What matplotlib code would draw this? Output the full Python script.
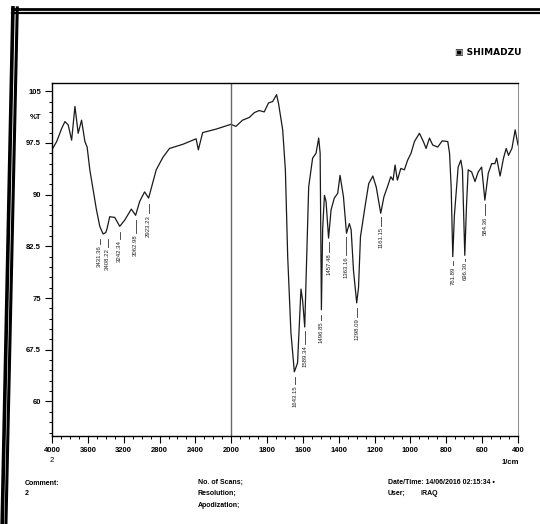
import numpy as np
import matplotlib
matplotlib.use("Agg")
import matplotlib.pyplot as plt
from matplotlib.lines import Line2D
from matplotlib.ticker import FixedLocator, MultipleLocator

plt.rcParams['font.family'] = ['Liberation Sans Narrow', 'Liberation Sans', 'DejaVu Sans']

# spectrum (wavenumber 1/cm, %T)
wn = [3992, 3948, 3892, 3856, 3819, 3781, 3744, 3708, 3670, 3633, 3608, 3578,
      3541, 3504, 3467, 3430, 3400, 3385, 3356, 3300, 3244, 3189, 3115, 3067,
      3022, 2967, 2922, 2837, 2763, 2689, 2541, 2392, 2367, 2319, 2170, 2003,
      1974, 1937, 1899, 1871, 1844, 1816, 1792, 1769, 1747, 1736, 1713, 1698,
      1685, 1667, 1648, 1630, 1611, 1602, 1590, 1583, 1568, 1546, 1527, 1512,
      1504, 1497, 1490, 1480, 1471, 1457, 1443, 1425, 1406, 1393, 1374, 1357,
      1341, 1331, 1318, 1300, 1290, 1279, 1251, 1233, 1210, 1191, 1166, 1148,
      1129, 1110, 1097, 1086, 1073, 1054, 1034, 1016, 997, 978, 950, 928,
      913, 894, 876, 848, 823, 792, 782, 773, 764, 755, 747, 734, 719, 710,
      697, 687, 678, 659, 640, 622, 603, 585, 566, 547, 529, 519, 500, 481,
      466, 453, 434, 416, 400]
tr = [96.7, 97.7, 99.6, 100.6, 100.1, 97.9, 102.8, 98.9, 100.8, 97.7, 96.9, 93.6,
      90.7, 87.8, 85.4, 84.3, 84.5, 85.1, 86.8, 86.7, 85.4, 86.3, 87.9, 87.0,
      89.0, 90.4, 89.5, 93.6, 95.4, 96.7, 97.3, 98.1, 96.5, 99.0, 99.5, 100.2,
      99.9, 100.8, 101.2, 101.9, 102.2, 102.0, 103.3, 103.5, 104.5, 103.2, 99.4, 93.6,
      81.0, 70.0, 64.3, 65.6, 76.3, 74.7, 70.8, 77.1, 91.1, 95.3, 96.0, 98.2,
      96.0, 73.3, 85.0, 89.9, 89.0, 83.7, 87.8, 89.5, 90.2, 92.8, 89.7, 84.4,
      85.8, 84.9, 79.0, 74.3, 76.5, 83.9, 88.7, 91.6, 92.7, 91.1, 87.3, 89.7,
      91.1, 92.6, 92.1, 94.3, 92.1, 93.8, 93.6, 95.0, 96.0, 97.7, 98.9, 97.7,
      96.7, 98.2, 97.2, 96.9, 97.8, 97.7, 96.0, 91.1, 81.0, 87.0, 89.7, 94.0, 95.0, 93.6,
      81.2, 88.7, 93.6, 93.3, 91.9, 93.3, 94.0, 89.2, 93.1, 94.5, 94.5, 95.3, 92.7, 95.3,
      96.7, 95.7, 96.7, 99.4, 97.2]

# peak labels
peak_txt = ['3431.36', '3408.22', '3242.34', '3062.98', '2923.23', '1643.15',
            '1589.34', '1496.85', '1457.48', '1363.16', '1298.09', '1161.15',
            '761.89', '696.30', '584.36']
peak_x = [3468, 3380, 3244, 3067, 2922, 1645, 1590, 1497, 1457, 1357, 1296,
          1163, 764, 697, 585]
peak_line = [83.6, 83.6, 84.6, 86.3, 88.7, 63.6, 70.2, 72.6, 83.1, 83.9, 73.6,
             86.7, 80.4, 80.6, 88.6]
peak_text = [82.6, 82.2, 83.4, 84.3, 87.1, 62.4, 68.2, 71.6, 81.5, 81.0, 72.1,
             85.3, 79.6, 80.2, 86.8]

xmajor = [4000, 3600, 3200, 2800, 2400, 2000, 1800, 1600, 1400, 1200, 1000, 800, 600, 400]
ymajor = [60, 67.5, 75, 82.5, 90, 97.5, 105]
ylabels = ['60', '67.5', '75', '82.5', '90', '97.5', '105']


def fwd(x):
    x = np.asarray(x, float)
    return np.where(x >= 2000, (x - 2000) / 2.0, x - 2000)


def inv(t):
    t = np.asarray(t, float)
    return np.where(t >= 0, 2000 + 2 * t, t + 2000)


fig = plt.figure(figsize=(5.4, 5.24), dpi=100)
ax = fig.add_axes([0.0963, 0.168, 0.863, 0.6737])
ax.set_xscale('function', functions=(fwd, inv))
ax.set_xlim(4000, 400)
ax.set_ylim(55, 106.2)

ax.plot(wn, tr, color='#1a1a1a', lw=0.9)
ax.axvline(2000, color='#666666', lw=1.0)

for x, t, y1, y2 in zip(peak_x, peak_txt, peak_line, peak_text):
    ax.plot([x, x], [y1, y2 + 0.2], color='#333333', lw=0.6)
    ax.text(x, y2, t, rotation=90, ha='center', va='top', fontsize=4.3,
            color='#222222')

ax.xaxis.set_major_locator(FixedLocator(xmajor))
ax.set_xticklabels([str(v) for v in xmajor])
minor = list(range(4000, 2000, -100)) + list(range(2000, 399, -50))
ax.xaxis.set_minor_locator(FixedLocator(minor))
ax.set_yticks(ymajor, ylabels)
ax.yaxis.set_minor_locator(MultipleLocator(1.5))

ax.tick_params(which='major', length=5, width=0.8, labelsize=5.5, pad=3)
ax.tick_params(which='minor', length=2.5, width=0.7)
for lab in ax.get_xticklabels() + ax.get_yticklabels():
    lab.set_fontweight('bold')
for sp in ['left', 'bottom', 'top']:
    ax.spines[sp].set_linewidth(1.0)
ax.spines['right'].set_linewidth(0.6)
ax.spines['right'].set_color('#777777')

ax.text(-0.022, 101.2, '%T', transform=ax.get_yaxis_transform(), ha='right',
        va='center', fontsize=5.5, fontweight='bold')

# header and footer
fig.text(0.905, 0.9, '\u25a3 SHIMADZU', fontsize=6.5, fontweight='bold',
         ha='center', va='center', family=['DejaVu Sans'])
fig.text(0.096, 0.121, '2', fontsize=5.5, ha='center', va='center')
fig.text(0.945, 0.118, '1/cm', fontsize=5.5, ha='center', va='center', fontweight='bold')
fs = 5
fig.text(0.046, 0.078, 'Comment:', fontsize=fs, va='center', fontweight='bold')
fig.text(0.046, 0.058, '2', fontsize=fs, va='center', fontweight='bold')
fig.text(0.366, 0.080, 'No. of Scans;', fontsize=fs, va='center', fontweight='bold')
fig.text(0.366, 0.059, 'Resolution;', fontsize=fs, va='center', fontweight='bold')
fig.text(0.366, 0.036, 'Apodization;', fontsize=fs, va='center', fontweight='bold')
fig.text(0.718, 0.080, 'Date/Time: 14/06/2016 02:15:34 \u2022', fontsize=fs, va='center', fontweight='bold')
fig.text(0.718, 0.059, 'User;', fontsize=fs, va='center', fontweight='bold')
fig.text(0.778, 0.059, 'IRAQ', fontsize=fs, va='center', fontweight='bold')

# scanned page border
fig.add_artist(Line2D([0.022, 1.0], [0.983, 0.983], transform=fig.transFigure, color='black', lw=2.0))
fig.add_artist(Line2D([0.022, 1.0], [0.975, 0.975], transform=fig.transFigure, color='black', lw=1.6))
fig.add_artist(Line2D([0.024, 0.004], [0.985, 0.0], transform=fig.transFigure, color='black', lw=2.6))
fig.add_artist(Line2D([0.032, 0.011], [0.985, 0.0], transform=fig.transFigure, color='black', lw=2.2))

fig.savefig('out.png', dpi=100)
